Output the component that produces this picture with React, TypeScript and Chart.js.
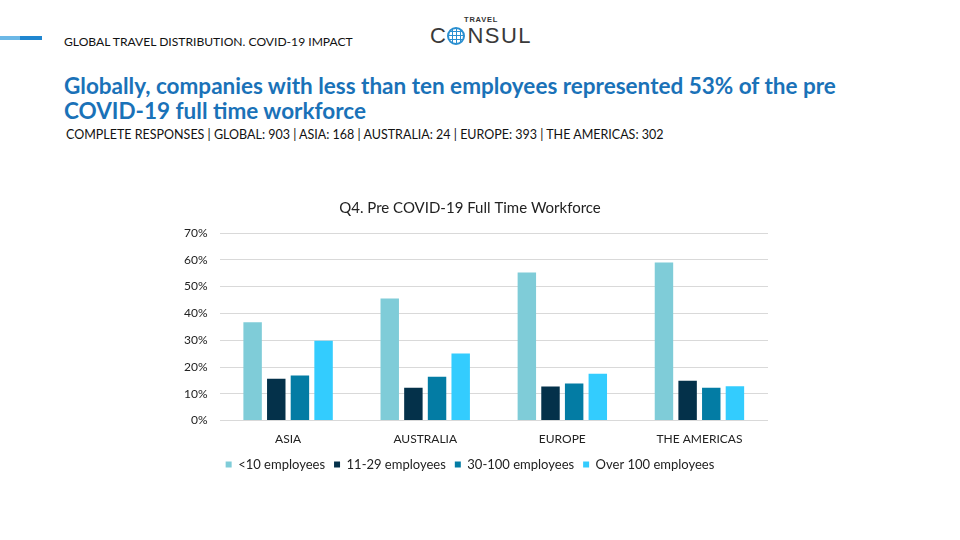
import React, { useEffect, useRef } from "react";
import { Chart, registerables } from "chart.js";

Chart.register(...registerables);

const categories = ["ASIA", "AUSTRALIA", "EUROPE", "THE AMERICAS"];
const seriesNames = ["<10 employees", "11-29 employees", "30-100 employees", "Over 100 employees"];
const lessThan10 = [36.7, 45.6, 55.3, 59.0];
const from11to29 = [15.6, 12.3, 12.7, 14.9];
const from30to100 = [16.8, 16.4, 13.8, 12.3];
const over100 = [29.8, 25.0, 17.5, 12.8];
const seriesColors = ["#7fccd8", "#04314a", "#037ca4", "#33ccfe"];
const yTicks = [0, 10, 20, 30, 40, 50, 60, 70];

const FONT = "Lato, 'Noto Sans', sans-serif";

export default function App() {
  const ref = useRef<HTMLCanvasElement | null>(null);

  useEffect(() => {
    if (!ref.current) return;
    const values = [lessThan10, from11to29, from30to100, over100];
    const chart = new Chart(ref.current, {
      type: "bar",
      data: {
        labels: categories,
        datasets: seriesNames.map((name, i) => ({
          label: name,
          data: values[i],
          backgroundColor: seriesColors[i],
          borderWidth: 0,
          categoryPercentage: 0.69,
          barPercentage: 0.78,
        })),
      },
      options: {
        animation: false,
        responsive: false,
        maintainAspectRatio: false,
        layout: { padding: { left: 172, right: 192, top: 199, bottom: 59 } },
        plugins: {
          title: {
            display: true,
            text: "Q4. Pre COVID-19 Full Time Workforce",
            color: "#222",
            font: { family: FONT, size: 15, weight: "normal" },
            padding: { top: 0, bottom: 16 },
          },
          legend: {
            position: "bottom",
            labels: {
              color: "#222",
              font: { family: FONT, size: 13 },
              boxWidth: 6,
              boxHeight: 6,
              padding: 9,
            },
          },
          tooltip: { enabled: false },
        },
        scales: {
          x: {
            grid: { display: false },
            border: { display: false },
            ticks: { color: "#222", font: { family: FONT, size: 12 }, padding: 3 },
          },
          y: {
            min: 0,
            max: 70,
            afterBuildTicks: (axis: any) => {
              axis.ticks = yTicks.map((v) => ({ value: v }));
            },
            grid: { color: "#d9d9d9", lineWidth: 1, drawTicks: false },
            border: { display: false },
            ticks: {
              color: "#222",
              font: { family: FONT, size: 12 },
              padding: 12,
              callback: (v: any) => v + "%",
            },
          },
        },
      },
    });
    return () => chart.destroy();
  }, []);

  return (
    <div style={{ position: "absolute", left: 0, top: 0, width: 960, height: 540, background: "#fff", overflow: "hidden", fontFamily: FONT }}>
      <div style={{ position: "absolute", left: 0, top: 36, width: 20, height: 4, background: "#6cb8e6" }} />
      <div style={{ position: "absolute", left: 20, top: 36, width: 22, height: 4, background: "#1f86d0" }} />
      <div style={{ position: "absolute", left: 64, top: 34, fontSize: 12.1, color: "#111", whiteSpace: "nowrap" }}>
        GLOBAL TRAVEL DISTRIBUTION. COVID-19 IMPACT
      </div>
      <div style={{ position: "absolute", left: 464, top: 15, fontSize: 7.5, fontWeight: 700, color: "#333", letterSpacing: 0.8, fontFamily: "'Liberation Sans', sans-serif" }}>
        TRAVEL
      </div>
      <div style={{ position: "absolute", left: 430, top: 24, fontSize: 22, color: "#3a3a3a", fontFamily: "'Liberation Sans', sans-serif", display: "flex", alignItems: "center", lineHeight: "24px", letterSpacing: 1.5 }}>
        <span>C</span>
        <span style={{ display: "inline-block", width: 18, height: 18, borderRadius: "50%", border: "2px solid #2a8fd0", boxSizing: "border-box", margin: "0 2px 0 0", background: "repeating-linear-gradient(90deg, transparent 0 3px, #2a8fd0 3px 4px), repeating-linear-gradient(0deg, transparent 0 3px, #2a8fd0 3px 4px)" }} />
        <span>NSUL</span>
      </div>
      <div style={{ position: "absolute", left: 64, top: 73, width: 790, fontSize: 22.5, fontWeight: 700, color: "#1a72b8", lineHeight: "25px" }}>
        Globally, companies with less than ten employees represented 53% of the pre COVID-19 full time workforce
      </div>
      <div style={{ position: "absolute", left: 66, top: 127, fontSize: 12.5, color: "#111", whiteSpace: "nowrap" }}>
        COMPLETE RESPONSES | GLOBAL: 903 | ASIA: 168 | AUSTRALIA: 24 | EUROPE: 393 | THE AMERICAS: 302
      </div>
      <canvas ref={ref} width={960} height={540} style={{ position: "absolute", left: 0, top: 0 }} />
    </div>
  );
}
